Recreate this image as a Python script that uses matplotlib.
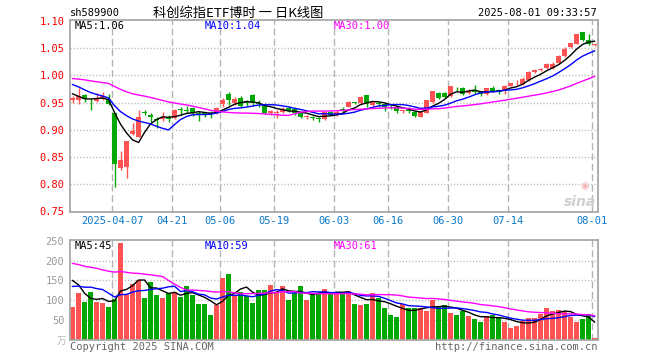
import matplotlib
matplotlib.use("Agg")
import matplotlib.pyplot as plt
import numpy as np
import pandas as pd

plt.rcParams["font.family"] = ["DejaVu Sans Mono"]
plt.rcParams["lines.scale_dashes"] = False

# trading days shown (26 Mar - 1 Aug 2025, exchange holidays removed)
holidays = ["2025-04-04", "2025-05-01", "2025-05-02", "2025-05-05", "2025-06-02"]
dates = pd.bdate_range("2025-03-26", "2025-08-01")
dates = dates[~dates.isin(pd.to_datetime(holidays))]

opens = [0.954, 0.955, 0.963, 0.953, 0.953, 0.957, 0.957, 0.930, 0.830, 0.832,
         0.893, 0.887, 0.933, 0.927, 0.920, 0.919, 0.922, 0.921, 0.937, 0.937,
         0.940, 0.931, 0.931, 0.931, 0.931, 0.947, 0.965, 0.950, 0.959, 0.952,
         0.963, 0.950, 0.948, 0.930, 0.931, 0.933, 0.940, 0.939, 0.931, 0.923,
         0.923, 0.922, 0.919, 0.933, 0.927, 0.938, 0.942, 0.951, 0.949, 0.963,
         0.945, 0.948, 0.948, 0.944, 0.941, 0.934, 0.937, 0.933, 0.924, 0.931,
         0.951, 0.968, 0.967, 0.962, 0.979, 0.977, 0.968, 0.972, 0.971, 0.965,
         0.977, 0.972, 0.971, 0.981, 0.987, 0.984, 0.991, 1.006, 1.009, 1.013,
         1.014, 1.022, 1.035, 1.052, 1.058, 1.079, 1.064, 1.055]
highs = [0.962, 0.977, 0.966, 0.957, 0.967, 0.969, 0.966, 0.930, 0.861, 0.880,
         0.913, 0.936, 0.937, 0.931, 0.924, 0.933, 0.927, 0.938, 0.942, 0.944,
         0.941, 0.935, 0.933, 0.934, 0.941, 0.958, 0.970, 0.960, 0.962, 0.954,
         0.965, 0.954, 0.950, 0.937, 0.937, 0.941, 0.943, 0.941, 0.932, 0.927,
         0.926, 0.924, 0.934, 0.935, 0.937, 0.941, 0.952, 0.951, 0.962, 0.964,
         0.953, 0.951, 0.949, 0.946, 0.942, 0.937, 0.941, 0.934, 0.933, 0.955,
         0.972, 0.970, 0.969, 0.981, 0.979, 0.978, 0.974, 0.982, 0.972, 0.977,
         0.980, 0.975, 0.982, 0.986, 0.991, 0.996, 1.007, 1.011, 1.013, 1.023,
         1.025, 1.038, 1.052, 1.060, 1.076, 1.080, 1.075, 1.058]
lows = [0.950, 0.947, 0.951, 0.937, 0.951, 0.955, 0.946, 0.794, 0.827, 0.812,
        0.890, 0.886, 0.927, 0.914, 0.904, 0.916, 0.914, 0.920, 0.927, 0.930,
        0.925, 0.916, 0.923, 0.922, 0.929, 0.942, 0.946, 0.946, 0.942, 0.944,
        0.943, 0.942, 0.929, 0.927, 0.922, 0.930, 0.933, 0.928, 0.921, 0.919,
        0.918, 0.915, 0.918, 0.927, 0.926, 0.933, 0.941, 0.947, 0.948, 0.941,
        0.944, 0.942, 0.935, 0.938, 0.930, 0.930, 0.931, 0.924, 0.923, 0.930,
        0.950, 0.957, 0.958, 0.961, 0.972, 0.963, 0.965, 0.965, 0.962, 0.964,
        0.970, 0.965, 0.966, 0.980, 0.983, 0.983, 0.990, 1.005, 1.008, 1.012,
        1.012, 1.021, 1.034, 1.051, 1.057, 1.063, 1.056, 1.053]
closes = [0.958, 0.962, 0.956, 0.952, 0.959, 0.962, 0.948, 0.838, 0.844, 0.879,
          0.898, 0.924, 0.930, 0.923, 0.918, 0.924, 0.919, 0.936, 0.936, 0.935,
          0.930, 0.929, 0.929, 0.929, 0.940, 0.954, 0.954, 0.957, 0.944, 0.950,
          0.949, 0.948, 0.931, 0.934, 0.933, 0.939, 0.935, 0.930, 0.924, 0.925,
          0.922, 0.920, 0.933, 0.928, 0.933, 0.937, 0.951, 0.950, 0.960, 0.948,
          0.951, 0.947, 0.941, 0.943, 0.935, 0.936, 0.934, 0.925, 0.933, 0.954,
          0.971, 0.959, 0.961, 0.980, 0.978, 0.966, 0.971, 0.969, 0.965, 0.976,
          0.971, 0.971, 0.980, 0.985, 0.988, 0.994, 1.006, 1.010, 1.011, 1.020,
          1.021, 1.035, 1.049, 1.059, 1.075, 1.065, 1.057, 1.057]
# volume, 10k lots
volumes = [82, 118, 97, 120, 95, 92, 82, 104, 244, 115,
           140, 152, 105, 145, 113, 105, 118, 120, 108, 137,
           113, 90, 90, 64, 87, 156, 166, 113, 120, 112,
           92, 125, 125, 138, 122, 135, 100, 118, 135, 102,
           118, 118, 128, 120, 119, 116, 124, 90, 88, 90,
           118, 107, 80, 62, 59, 91, 81, 81, 80, 73,
           102, 84, 88, 67, 62, 73, 60, 54, 45, 60,
           64, 59, 45, 30, 35, 48, 56, 55, 65, 80,
           72, 75, 73, 58, 45, 54, 62, 6]

# closes / volumes before the window, estimated from where the MA lines start
pre_closes = [0.992, 0.998, 1.004, 1.010, 1.006, 0.998, 1.002, 1.008, 1.012, 1.004,
              0.996, 0.990, 0.994, 1.000, 1.006, 1.002, 0.996, 0.992, 0.988, 0.992,
              1.004, 1.010, 1.002, 0.994, 0.990, 0.985, 0.978, 0.955, 0.954]
pre_volumes = [205, 230, 190, 175, 210, 185, 170, 195, 180, 200,
               175, 165, 190, 180, 167, 420, 390, 360, 333, 120,
               110, 125, 118, 130, 117, 173, 202, 185, 108]

tick_dates = ["2025-04-07", "2025-04-21", "2025-05-06", "2025-05-19", "2025-06-03",
              "2025-06-16", "2025-06-30", "2025-07-14", "2025-08-01"]

RED = "#ff5353"
GREEN = "#00a800"
GRID = "#b4b4b4"
W, H = 660, 360


def ma(pre, vals, n):
    s = pd.Series(list(pre) + list(vals)).rolling(n).mean()
    return s.values[len(pre):]


def fx(px):
    return px / W


def fy(py):
    return 1 - py / H


n = len(closes)
x = np.arange(n)
o = np.array(opens)
c = np.array(closes)
up = c >= o
cols = np.where(up, RED, GREEN)

fig = plt.figure(figsize=(6.6, 3.6), dpi=100)
ax = fig.add_axes([fx(70), fy(212), fx(528), 192 / H])
axv = fig.add_axes([fx(70), fy(340), fx(528), 100 / H])

xlim = (-0.42, n - 0.42)
tick_idx = [list(dates.strftime("%Y-%m-%d")).index(d) for d in tick_dates]

for a in (ax, axv):
    a.set_xlim(*xlim)
    for s in a.spines.values():
        s.set_color("#a8a8a8")
        s.set_linewidth(1.3)
    a.set_xticks([])
    for t in tick_idx:
        a.axvline(t - 0.4, color=GRID, lw=1, ls=(0, (5, 2.5)), zorder=0)
    a.tick_params(axis="y", length=0, pad=4, labelsize=7.5)

# price panel
ylo = 0.749
ax.set_ylim(ylo, 1.1015)
pticks = [0.75, 0.80, 0.85, 0.90, 0.95, 1.00, 1.05, 1.10]
ax.set_yticks(pticks)
ax.set_yticklabels(["%.2f" % v for v in pticks], color="#ff0000")
for v in pticks[1:-1]:
    ax.axhline(v, color=GRID, lw=1, ls=(0, (0.8, 1.5)), zorder=0)

body = np.maximum(np.abs(c - o), 0.0012)
ax.vlines(x, lows, highs, colors=cols, lw=1, zorder=2)
ax.bar(x, body, bottom=np.minimum(o, c), width=0.82, color=cols, zorder=3)

ma5 = ma(pre_closes, closes, 5)
ma10 = ma(pre_closes, closes, 10)
ma30 = ma(pre_closes, closes, 30)
ax.plot(x, ma5, color="black", lw=1, zorder=4)
ax.plot(x, ma10, color="#0000ff", lw=1, zorder=4)
ax.plot(x, ma30, color="#ff00ff", lw=1, zorder=4)

for i, d in zip(tick_idx, tick_dates):
    lab = d if i == tick_idx[0] else d[5:]
    ax.text(i - 0.4, ylo - 4 / 546, lab, ha="center", va="top",
            color="#0a78c8", fontsize=7.5)

fig.text(fx(75), fy(26), "MA5:%.2f" % ma5[-1], color="black", fontsize=7.5, va="center")
fig.text(fx(205), fy(26), "MA10:%.2f" % ma10[-1], color="#0000ff", fontsize=7.5, va="center")
fig.text(fx(334), fy(26), "MA30:%.2f" % ma30[-1], color="#ff00ff", fontsize=7.5, va="center")

# volume panel
axv.set_ylim(0, 252)
vticks = [50, 100, 150, 200, 250]
axv.set_yticks(vticks)
axv.set_yticklabels([str(v) for v in vticks], color="#999999")
for v in vticks[:-1]:
    axv.axhline(v, color=GRID, lw=1, ls=(0, (0.8, 1.5)), zorder=0)
axv.bar(x, volumes, width=0.82, color=cols, zorder=2)
vma5 = ma(pre_volumes, volumes, 5)
vma10 = ma(pre_volumes, volumes, 10)
vma30 = ma(pre_volumes, volumes, 30)
axv.plot(x, vma5, color="black", lw=1, zorder=4)
axv.plot(x, vma10, color="#0000ff", lw=1, zorder=4)
axv.plot(x, vma30, color="#ff00ff", lw=1, zorder=4)

fig.text(fx(75), fy(246), "MA5:%d" % int(vma5[-1]), color="black", fontsize=7.5, va="center")
fig.text(fx(205), fy(246), "MA10:%d" % int(vma10[-1]), color="#0000ff", fontsize=7.5, va="center")
fig.text(fx(334), fy(246), "MA30:%d" % int(vma30[-1]), color="#ff00ff", fontsize=7.5, va="center")
fig.text(fx(66), fy(341), "万", color="#bbbbbb", fontsize=7, ha="right", va="center",
         family=["Noto Sans CJK SC", "DejaVu Sans"])

# header and footer
fig.text(fx(70), fy(13), "sh589900", fontsize=7.5, va="center")
fig.text(fx(238), fy(13), "科创综指ETF博时 一 日K线图", fontsize=9.5, ha="center", va="center",
         family=["Noto Sans CJK SC", "DejaVu Sans"])
fig.text(fx(597), fy(13), "2025-08-01 09:33:57", fontsize=7.5, ha="right", va="center")
fig.text(fx(70), fy(347), "Copyright 2025 SINA.COM", fontsize=7.5, color="#666666", va="center")
fig.text(fx(597), fy(347), "http://finance.sina.com.cn", fontsize=7.5, color="#666666",
         ha="right", va="center")
# sina watermark
fig.text(fx(580), fy(202), "sina", fontsize=10, color="#cfcfcf", style="italic",
         weight="bold", ha="center", va="center", family=["DejaVu Sans"])
fig.text(fx(585), fy(186), "◉", fontsize=7, color="#f4b8b8", ha="center", va="center",
         family=["DejaVu Sans"])

fig.savefig("out.png", dpi=100)
